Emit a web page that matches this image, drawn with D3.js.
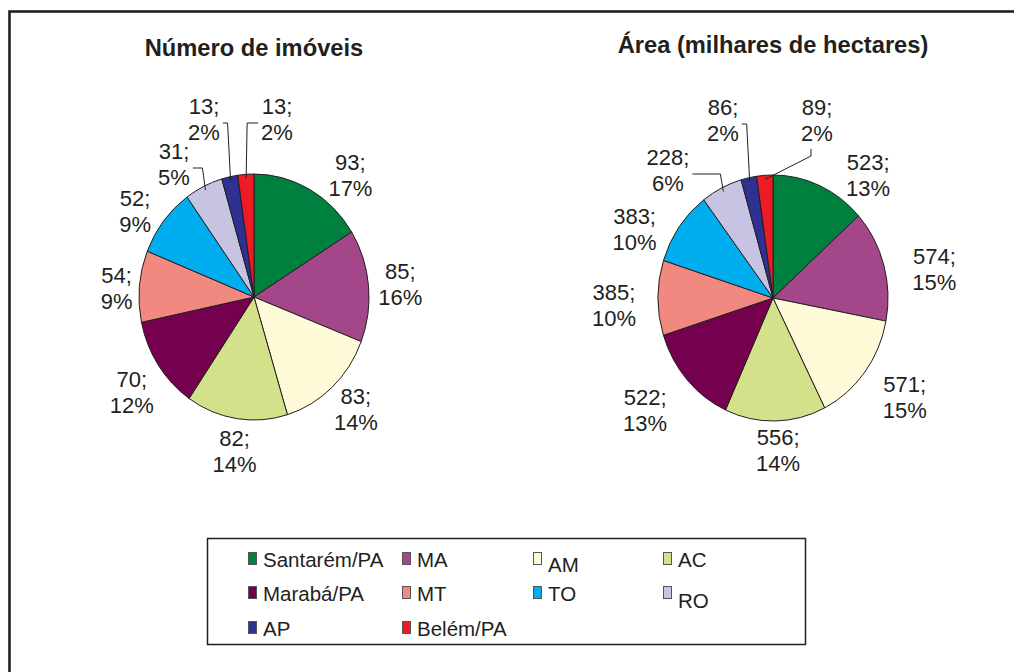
<!DOCTYPE html>
<html>
<head>
<meta charset="utf-8">
<script src="https://cdn.jsdelivr.net/npm/d3@7"></script>
<style>
  body { margin: 0; background: #fff; }
  text { font-family: "Liberation Sans", Arial, sans-serif; fill: #231f20; }
</style>
</head>
<body>
<div class="chart"></div>
<script>
var categories = ['Santarém/PA', 'MA', 'AM', 'AC', 'Marabá/PA', 'MT', 'TO', 'RO', 'AP', 'Belém/PA'];
var colors = ['#00803e', '#a4478a', '#fffad7', '#d3e18b', '#75004d', '#f28981', '#00aeef', '#c6c4e2', '#2e3092', '#ed1c24'];

var imoveis = [93, 85, 83, 82, 70, 54, 52, 31, 13, 13];
var imoveisPct = ['17%', '16%', '14%', '14%', '12%', '9%', '9%', '5%', '2%', '2%'];

var area = [523, 574, 571, 556, 522, 385, 383, 228, 86, 89];
var areaPct = ['13%', '15%', '15%', '14%', '13%', '10%', '10%', '6%', '2%', '2%'];

var titles = ['Número de imóveis', 'Área (milhares de hectares)'];

const width = 1014;
const height = 672;
const ink = '#231f20';

var svg = d3.select('.chart')
  .append('svg')
    .attr('width', width)
    .attr('height', height);

// outer frame (runs off the right/bottom edge like the original scan)
svg.append('rect')
  .attr('x', 9.5).attr('y', 11.5)
  .attr('width', 1100).attr('height', 1000)
  .attr('fill', 'none')
  .attr('stroke', ink)
  .attr('stroke-width', 2.6);

// pie geometry: the source is slightly stretched vertically
// tweak = small best-fit shifts of the free labels, like the original's
var charts = [
  {title: titles[0], values: imoveis, pct: imoveisPct, cx: 254, cy: 297, rx: 115, ry: 123, gap: 10, titleY: 56,
   tweak: [[25, 12], [0, 0], [2, -3], [3, 0], [0, 8], [3, 4], [-8, 9]],
   leaders: [{dx: -80, dy: -134, kind: 'left'}, {dx: -50, dy: -179, kind: 'left'}, {dx: 23, dy: -179, kind: 'right'}]},
  {title: titles[1], values: area, pct: areaPct, cx: 773, cy: 298, rx: 115, ry: 123, gap: 18, titleY: 53,
   tweak: [[32, 25], [12, 14], [8, 0], [2, -12], [-12, 3], [-4, 6], [-12, 24]],
   leaders: [{dx: -105, dy: -129, kind: 'left'}, {dx: -50, dy: -179, kind: 'left'}, {dx: 44, dy: -179, kind: 'down'}]}
];

var pie = d3.pie().sort(null).value(d => d);

charts.forEach(function (c) {
  svg.append('text')
    .attr('x', c.cx)
    .attr('y', c.titleY)
    .attr('text-anchor', 'middle')
    .style('font-size', '23.7px')
    .style('font-weight', 'bold')
    .text(c.title);

  var arcs = pie(c.values);
  var arc = d3.arc().innerRadius(0).outerRadius(c.ry);

  svg.append('g')
      .attr('transform', `translate(${c.cx}, ${c.cy}) scale(${c.rx / c.ry}, 1)`)
    .selectAll('path')
    .data(arcs)
    .enter()
    .append('path')
      .attr('d', arc)
      .attr('fill', (d, i) => colors[i])
      .attr('stroke', ink)
      .attr('stroke-width', 1)
      .attr('vector-effect', 'non-scaling-stroke');

  var nFree = arcs.length - c.leaders.length;

  arcs.forEach(function (d, i) {
    var a = (d.startAngle + d.endAngle) / 2;
    var s = Math.sin(a), co = Math.cos(a);
    var g = svg.append('g');
    var t1 = g.append('text').attr('text-anchor', 'middle').style('font-size', '22px').text(c.values[i] + ';');
    var t2 = g.append('text').attr('text-anchor', 'middle').style('font-size', '22px').text(c.pct[i]);
    var w = Math.max(t1.node().getComputedTextLength(), t2.node().getComputedTextLength());
    var h = 44;
    var lx, ly;
    if (i < nFree) {
      lx = c.cx + s * (c.rx + c.gap) + s * w / 2 + c.tweak[i][0];
      ly = c.cy - co * (c.ry + c.gap) - co * h / 2 + c.tweak[i][1];
    } else {
      var L = c.leaders[i - nFree];
      lx = c.cx + L.dx;
      ly = c.cy + L.dy;
      // edge point of the slice, a little inside the rim
      var ex = c.cx + s * (c.rx - 4);
      var ey = c.cy - co * (c.ry - 4);
      var pts;
      if (L.kind === 'left') {
        var sx = lx + w / 2 + 3, sy = ly + 5;
        pts = [[sx, sy], [ex - 3, sy], [ex, ey]];
      } else if (L.kind === 'right') {
        var sx2 = lx - w / 2 - 3, sy2 = ly + 5;
        pts = [[sx2, sy2], [ex + 1, sy2], [ex, ey]];
      } else {
        pts = [[lx - 6, ly + 30], [lx - 6, ly + 37], [ex, ey]];
      }
      svg.append('path')
        .attr('d', d3.line()(pts))
        .attr('fill', 'none')
        .attr('stroke', ink)
        .attr('stroke-width', 1);
    }
    t1.attr('x', lx).attr('y', ly - 4);
    t2.attr('x', lx).attr('y', ly + 22);
  });
});

// legend
var legendBox = {x: 207.5, y: 538.5, w: 598, h: 106};
svg.append('rect')
  .attr('x', legendBox.x).attr('y', legendBox.y)
  .attr('width', legendBox.w).attr('height', legendBox.h)
  .attr('fill', 'none')
  .attr('stroke', ink)
  .attr('stroke-width', 1.5);

var colX = [248, 402, 533, 663];
var rowY = [567, 601, 636];
var nudge = {'AM': 5, 'RO': 7};

var legend = svg.selectAll('.legend-item')
  .data(categories)
  .enter()
  .append('g')
    .attr('class', 'legend-item')
    .attr('transform', (d, i) => `translate(${colX[i % 4]}, ${rowY[Math.floor(i / 4)]})`);

legend.append('rect')
  .attr('x', 0.5).attr('y', -14.5)
  .attr('width', 8).attr('height', 12)
  .attr('fill', (d, i) => colors[i])
  .attr('stroke', '#555')
  .attr('stroke-width', 1);

legend.append('text')
  .attr('x', 15)
  .attr('y', d => nudge[d] || 0)
  .style('font-size', '20.5px')
  .text(d => d);
</script>
</body>
</html>
